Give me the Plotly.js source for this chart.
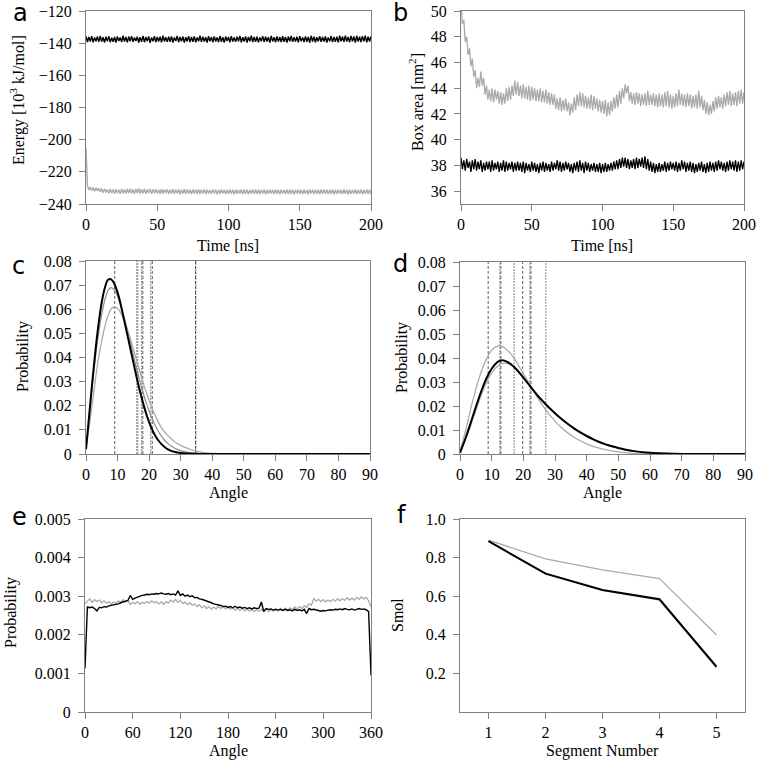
<!DOCTYPE html>
<html><head><meta charset="utf-8">
<script src="https://cdn.plot.ly/plotly-3.0.1.min.js"></script>
<style>html,body{margin:0;padding:0;background:#fff}#chart{width:762px;height:766px}</style>
</head><body><div id="chart"></div>
<script>
// ---------------- DATA ----------------
const timeNs = [];
for (let t = 0; t <= 200; t++) timeNs.push(t);

const energyBlack = [
-135.8,-139.3,-136.2,-139.0,-135.6,-139.5,-136.5,-138.8,-135.9,-139.2,-135.5,-139.0,-136.3,-139.6,-136.0,-138.9,-135.6,-139.4,-136.6,-139.1,
-136.1,-139.7,-135.8,-138.7,-136.4,-139.3,-135.4,-139.0,-136.2,-139.5,-135.9,-138.9,-135.6,-139.2,-136.5,-138.6,-136.0,-139.6,-136.3,-139.1,
-135.5,-139.4,-136.1,-138.9,-135.8,-139.8,-136.4,-138.8,-135.6,-139.3,-136.2,-139.0,-135.9,-139.5,-135.4,-138.9,-136.3,-139.2,-136.0,-139.1,
-135.8,-139.6,-136.5,-138.7,-135.5,-139.4,-136.1,-138.9,-135.9,-139.7,-136.3,-138.9,-135.6,-139.3,-136.2,-139.1,-135.8,-139.5,-136.4,-138.8,
-135.4,-139.2,-136.0,-139.0,-136.3,-139.6,-135.6,-138.9,-136.1,-139.4,-135.8,-139.0,-136.4,-139.3,-135.5,-139.1,-136.2,-139.7,-135.9,-138.7,
-136.1,-139.4,-135.6,-139.0,-136.4,-139.2,-136.0,-138.8,-135.5,-139.5,-136.3,-139.0,-135.8,-139.6,-136.2,-138.9,-135.4,-139.3,-136.1,-139.1,
-135.9,-139.5,-136.4,-138.8,-135.6,-139.2,-136.0,-139.0,-136.2,-139.7,-135.5,-138.9,-136.3,-139.4,-135.8,-139.0,-136.1,-139.3,-135.6,-139.1,
-136.2,-139.6,-135.9,-138.9,-135.5,-139.2,-136.3,-139.0,-136.0,-139.5,-135.6,-138.8,-136.4,-139.3,-135.8,-139.1,-136.1,-139.7,-135.4,-139.0,
-136.0,-139.4,-136.3,-138.9,-135.6,-139.2,-136.1,-139.0,-135.8,-139.6,-136.4,-138.8,-135.5,-139.3,-136.2,-139.1,-135.9,-139.5,-135.4,-138.9,
-135.9,-139.2,-135.3,-139.0,-136.1,-139.4,-135.5,-138.8,-135.8,-139.6,-135.4,-139.0,-136.0,-139.3,-135.6,-138.9,-135.3,-139.5,-135.9,-139.0,
-135.8];

const energyGray = [
-205.0,-228.6,-231.2,-229.4,-231.6,-229.8,-232.0,-230.0,-231.8,-230.2,-232.3,-230.4,-233.0,-230.6,-232.8,-230.9,-233.4,-230.7,-233.1,-231.0,
-233.6,-230.8,-233.2,-231.1,-233.7,-230.6,-233.3,-231.0,-233.5,-230.7,-233.1,-230.5,-233.4,-230.9,-233.6,-230.6,-233.2,-230.4,-233.5,-230.8,
-233.3,-230.7,-233.6,-231.0,-233.2,-230.6,-233.7,-230.9,-233.4,-230.8,-233.3,-231.1,-233.8,-230.7,-233.5,-231.0,-233.2,-230.9,-233.6,-231.2,
-233.4,-230.8,-233.7,-231.1,-233.3,-230.9,-233.9,-231.2,-233.5,-230.8,-233.6,-231.0,-233.4,-231.2,-233.8,-230.9,-233.5,-231.1,-233.7,-231.0,
-233.6,-231.2,-233.4,-230.9,-233.8,-231.1,-233.5,-231.3,-233.7,-230.9,-233.4,-231.1,-233.9,-231.2,-233.6,-231.0,-233.5,-231.3,-233.8,-231.1,
-233.7,-231.0,-233.5,-231.2,-233.9,-231.1,-233.6,-231.3,-233.4,-231.0,-233.8,-231.2,-233.6,-231.1,-233.9,-231.3,-233.5,-231.0,-233.7,-231.2,
-233.6,-231.1,-233.8,-231.3,-233.5,-231.0,-233.9,-231.2,-233.7,-231.1,-233.4,-231.3,-233.8,-231.0,-233.6,-231.2,-233.9,-231.1,-233.5,-231.3,
-233.7,-231.0,-233.8,-231.2,-233.6,-231.1,-233.9,-231.3,-233.5,-231.0,-233.7,-231.2,-233.8,-231.1,-233.6,-231.3,-233.9,-231.0,-233.5,-231.2,
-233.8,-231.1,-233.6,-231.3,-233.9,-231.0,-233.7,-231.2,-233.5,-231.1,-233.8,-231.3,-233.6,-231.0,-233.9,-231.2,-233.7,-231.1,-233.5,-231.3,
-233.8,-231.0,-233.6,-231.2,-233.9,-231.1,-233.7,-231.3,-233.5,-231.0,-233.8,-231.2,-233.6,-231.1,-233.9,-231.3,-233.7,-231.0,-233.6,-231.2,
-233.8];

const areaBlack = [
38.6,37.7,38.4,37.6,38.5,37.8,38.3,37.5,38.4,37.7,38.5,37.6,38.3,37.7,38.4,37.5,38.2,37.6,38.3,37.7,
38.3,37.5,38.4,37.6,38.2,37.7,38.3,37.5,38.2,37.6,38.4,37.5,38.3,37.6,38.2,37.7,38.3,37.5,38.2,37.6,
38.3,37.6,38.2,37.5,38.3,37.4,38.2,37.6,38.1,37.5,38.3,37.6,38.2,37.5,38.1,37.4,38.2,37.6,38.3,37.5,
38.2,37.6,38.1,37.5,38.3,37.6,38.2,37.7,38.4,37.6,38.3,37.5,38.2,37.6,38.3,37.7,38.2,37.5,38.1,37.4,
38.2,37.6,38.3,37.5,38.4,37.6,38.2,37.4,38.3,37.6,38.2,37.5,38.1,37.6,38.2,37.5,38.1,37.5,38.2,37.4,
38.1,37.5,38.2,37.5,38.1,37.6,38.2,37.6,38.3,37.7,38.4,37.7,38.5,37.8,38.6,37.9,38.6,37.8,38.5,37.7,
38.4,37.8,38.5,37.7,38.6,37.8,38.5,37.9,38.6,37.8,38.7,37.7,38.5,37.6,38.3,37.5,38.2,37.4,38.1,37.5,
38.2,37.5,38.1,37.6,38.3,37.5,38.2,37.6,38.3,37.7,38.2,37.6,38.3,37.5,38.2,37.6,38.4,37.7,38.3,37.5,
38.2,37.6,38.3,37.5,38.2,37.4,38.1,37.5,38.2,37.6,38.3,37.5,38.1,37.4,38.2,37.5,38.3,37.6,38.2,37.5,
38.3,37.6,38.4,37.7,38.3,37.6,38.2,37.5,38.3,37.6,38.4,37.7,38.3,37.6,38.4,37.5,38.3,37.6,38.4,37.7,
38.3];

const areaGray = [
50.8,49.0,49.3,47.6,48.0,46.6,47.1,45.7,46.3,44.9,45.4,44.0,44.8,44.1,45.3,44.2,44.8,43.5,44.2,43.1,
43.9,43.0,44.0,42.9,43.9,43.1,43.8,42.8,43.7,42.7,43.6,42.8,44.0,43.0,44.1,43.1,44.2,43.4,44.6,43.5,
44.5,43.4,44.2,43.2,44.3,43.2,44.1,43.1,44.2,43.0,44.1,43.1,44.0,43.0,43.9,43.0,44.0,42.9,43.8,42.9,
43.9,42.8,43.7,42.7,43.6,42.7,43.5,42.4,43.2,42.3,43.3,42.2,43.1,42.3,43.2,42.2,42.9,41.9,42.8,42.1,
43.3,42.3,43.5,42.6,43.7,42.6,43.6,42.5,43.4,42.4,43.3,42.4,43.5,42.3,43.4,42.4,43.2,42.2,43.1,42.1,
43.0,42.0,43.1,41.8,42.9,41.9,43.0,42.2,43.3,42.4,43.5,42.5,43.8,42.8,44.0,43.2,44.3,43.6,44.2,43.0,
43.7,42.8,43.6,42.7,43.7,42.8,43.6,42.6,43.5,42.7,43.6,42.6,43.8,42.7,43.5,42.7,43.6,42.6,43.5,42.5,
43.6,42.6,43.5,42.5,43.7,42.6,43.8,42.5,43.5,42.4,43.4,42.5,43.6,42.6,43.9,42.7,43.6,42.6,43.5,42.5,
43.6,42.6,43.5,42.4,43.4,42.5,43.5,42.4,43.8,42.5,43.4,42.3,43.1,42.0,42.9,41.9,42.7,42.0,43.0,42.2,
43.3,42.4,43.4,42.5,43.3,42.4,43.5,42.6,43.7,42.7,43.8,42.6,43.6,42.7,43.7,42.6,43.8,42.8,43.9,42.8,
43.7];

// Panel c: tilt angle distributions
const cAngle = [0,1,2,3,4,5,6,7,8,9,10,11,12,13,14,15,16,17,18,19,20,21,22,23,24,25,26,27,28,29,30,32,34,36,38,40,45,50,60,70,80,90];
const cBlack = [0.002,0.016,0.030,0.043,0.054,0.063,0.069,0.0722,0.0724,0.0705,0.067,0.062,0.056,0.050,0.044,0.038,0.032,0.0265,0.0215,0.017,0.0132,0.010,0.0075,0.0055,0.004,0.0028,0.0019,0.0013,0.0009,0.0006,0.0004,0.0002,0.0001,0.00005,0,0,0,0,0,0,0,0];
const cGray1 = [0.002,0.015,0.028,0.040,0.050,0.058,0.064,0.0678,0.069,0.068,0.0655,0.0615,0.057,0.052,0.0465,0.041,0.0355,0.0305,0.0258,0.0215,0.0178,0.0145,0.0116,0.0092,0.0072,0.0056,0.0043,0.0033,0.0025,0.0019,0.0014,0.0008,0.0004,0.0002,0.0001,0.00005,0,0,0,0,0,0];
const cGray2 = [0.002,0.011,0.021,0.031,0.040,0.047,0.053,0.0575,0.0602,0.061,0.0603,0.0585,0.0555,0.052,0.048,0.0435,0.039,0.0345,0.030,0.026,0.0222,0.0188,0.0158,0.013,0.0107,0.0090,0.0076,0.0063,0.0052,0.0043,0.0036,0.0024,0.0015,0.0009,0.0005,0.0003,0.00005,0,0,0,0,0];
const cMarksBlack = [9.1, 18.0, 21.0, 34.7];
const cMarksGray = [16.1, 16.4, 17.6, 20.5, 34.8];

// Panel d
const dAngle = [0,2,4,6,8,10,12,13,14,16,18,20,22,24,26,28,30,32,34,36,38,40,42,44,46,48,50,52,55,60,65,70,80,90];
const dBlack = [0.0005,0.0075,0.0155,0.0235,0.0305,0.0355,0.0385,0.039,0.0389,0.0375,0.035,0.0318,0.0285,0.0252,0.0222,0.0195,0.017,0.0147,0.0126,0.0107,0.009,0.0075,0.0062,0.005,0.004,0.0032,0.0025,0.0019,0.0012,0.0005,0.0002,0.00005,0,0];
const dGray1 = [0.001,0.011,0.022,0.0315,0.0385,0.0433,0.045,0.0449,0.0443,0.0418,0.038,0.0335,0.029,0.0245,0.0204,0.0168,0.0137,0.011,0.0088,0.007,0.0055,0.0042,0.0032,0.0024,0.0018,0.0013,0.0009,0.0006,0.0003,0.0001,0,0,0,0];
const dGray2 = [0.0005,0.007,0.0145,0.022,0.0288,0.0338,0.0368,0.0376,0.0379,0.0372,0.035,0.032,0.0287,0.0254,0.0223,0.0195,0.0169,0.0145,0.0124,0.0105,0.0088,0.0073,0.006,0.0049,0.0039,0.0031,0.0024,0.0018,0.0011,0.0005,0.0002,0.00005,0,0];
const dMarksBlack = [8.9, 12.9, 19.8, 22.4];
const dMarksGray = [12.6, 17.1, 22.1, 27.1];

// Panel e: dihedral distribution
const eAngle = [0,3,6,9,12,15,18,21,24,27,30,33,36,39,42,45,48,51,54,57,60,63,66,69,72,75,78,81,84,87,90,93,96,99,102,105,108,111,114,117,120,123,126,129,132,135,138,141,144,147,150,153,156,159,162,165,168,171,174,177,180,183,186,189,192,195,198,201,204,207,210,213,216,219,222,225,228,231,234,237,240,243,246,249,252,255,258,261,264,267,270,273,276,279,282,285,288,291,294,297,300,303,306,309,312,315,318,321,324,327,330,333,336,339,342,345,348,351,354,357,360];
const eBlack = [0.00113,0.00272,0.00270,0.00272,0.00268,0.00262,0.00271,0.00270,0.00273,0.00272,0.00275,0.00276,0.00278,0.00279,0.00280,0.00283,0.00285,0.00287,0.00289,0.00302,
0.00292,0.00295,0.00298,0.00300,0.00302,0.00303,0.00305,0.00304,0.00306,0.00305,0.00307,0.00306,0.00308,0.00306,0.00305,0.00307,0.00304,0.00306,0.00303,0.00314,
0.00302,0.00306,0.00300,0.00303,0.00299,0.00301,0.00296,0.00297,0.00293,0.00292,0.00290,0.00288,0.00285,0.00283,0.00280,0.00279,0.00276,0.00276,0.00273,0.00274,
0.00271,0.00273,0.00270,0.00274,0.00270,0.00272,0.00269,0.00271,0.00268,0.00270,0.00267,0.00270,0.00268,0.00269,0.00285,0.00260,0.00268,0.00266,0.00267,0.00264,
0.00266,0.00264,0.00266,0.00263,0.00266,0.00263,0.00265,0.00262,0.00266,0.00263,0.00265,0.00262,0.00266,0.00255,0.00268,0.00265,0.00266,0.00264,0.00263,0.00261,
0.00263,0.00262,0.00264,0.00265,0.00264,0.00266,0.00265,0.00267,0.00265,0.00268,0.00266,0.00265,0.00267,0.00264,0.00266,0.00268,0.00266,0.00267,0.00265,0.00260,
0.00095];
const eGray = [0.00280,0.00287,0.00293,0.00284,0.00291,0.00286,0.00290,0.00283,0.00288,0.00282,0.00286,0.00279,0.00285,0.00281,0.00288,0.00283,0.00291,0.00285,0.00289,0.00278,
0.00284,0.00280,0.00286,0.00279,0.00284,0.00281,0.00286,0.00282,0.00288,0.00283,0.00286,0.00280,0.00285,0.00279,0.00286,0.00282,0.00290,0.00285,0.00292,0.00284,
0.00289,0.00281,0.00285,0.00278,0.00283,0.00276,0.00280,0.00273,0.00278,0.00270,0.00275,0.00268,0.00273,0.00266,0.00272,0.00267,0.00274,0.00268,0.00273,0.00267,
0.00272,0.00266,0.00270,0.00264,0.00269,0.00263,0.00268,0.00262,0.00267,0.00261,0.00266,0.00260,0.00265,0.00261,0.00266,0.00262,0.00267,0.00260,0.00265,0.00261,
0.00266,0.00262,0.00268,0.00263,0.00269,0.00264,0.00270,0.00265,0.00272,0.00267,0.00273,0.00268,0.00275,0.00271,0.00280,0.00277,0.00294,0.00287,0.00292,0.00286,
0.00291,0.00285,0.00290,0.00286,0.00292,0.00287,0.00293,0.00288,0.00294,0.00289,0.00296,0.00290,0.00295,0.00290,0.00297,0.00292,0.00298,0.00293,0.00297,0.00288,
0.00272];

// Panel f: order parameter per segment
const segments = [1,2,3,4,5];
const smolBlack = [0.885,0.717,0.632,0.584,0.235];
const smolGrayHigh = [0.890,0.793,0.736,0.691,0.399];
const smolGrayLow = [0.885,0.720,0.630,0.580,0.228];
const fTicks = [0.2,0.4,0.6,0.8,1.0];
const fTickText = ["0.2","0.4","0.6","0.8","1.0"];

// ---------------- LAYOUT HELPERS ----------------
const W = 762, H = 766;
const GRAYL = '#aaaaaa', GRAYM = '#8c8c8c', AX = '#808080';
const SERIF = 'Liberation Serif, Times New Roman, serif';
const SANS = 'DejaVu Sans, sans-serif';
function dx(l, r) { return [l / W, r / W]; }
function dy(t, b) { return [1 - b / H, 1 - t / H]; }
function baseAxis(extra) {
  return Object.assign({
    showline: true, linecolor: AX, linewidth: 1, mirror: true,
    ticks: 'outside', ticklen: 6, tickcolor: AX, tickwidth: 1,
    showgrid: false, zeroline: false, fixedrange: true,
    tickfont: { family: SERIF, size: 16, color: '#000' },
    ticklabelstandoff: 4
  }, extra);
}
function xAxis(extra) { return baseAxis(Object.assign({ ticklabelstandoff: 0 }, extra)); }
function vlines(xs, y0, y1) {
  const X = [], Y = [];
  xs.forEach(v => { X.push(v, v, null); Y.push(y0, y1, null); });
  return { X, Y };
}

const traces = [];
// a
traces.push({ x: timeNs, y: energyGray, xaxis: 'x', yaxis: 'y', mode: 'lines', line: { color: GRAYL, width: 1.4 } });
traces.push({ x: timeNs, y: energyBlack, xaxis: 'x', yaxis: 'y', mode: 'lines', line: { color: '#000', width: 1.4 } });
// b
traces.push({ x: timeNs, y: areaGray, xaxis: 'x2', yaxis: 'y2', mode: 'lines', line: { color: GRAYL, width: 1.3 } });
traces.push({ x: timeNs, y: areaBlack, xaxis: 'x2', yaxis: 'y2', mode: 'lines', line: { color: '#000', width: 1.3 } });
// c
let v = vlines(cMarksGray, 0, 0.08);
traces.push({ x: v.X, y: v.Y, xaxis: 'x3', yaxis: 'y3', mode: 'lines', line: { color: '#999', width: 1.2, dash: '2px,1px' } });
v = vlines(cMarksBlack, 0, 0.08);
traces.push({ x: v.X, y: v.Y, xaxis: 'x3', yaxis: 'y3', mode: 'lines', line: { color: '#333', width: 0.8, dash: '3px,2px' } });
traces.push({ x: cAngle, y: cGray2, xaxis: 'x3', yaxis: 'y3', mode: 'lines', line: { color: GRAYL, width: 1.3, shape: 'spline' } });
traces.push({ x: cAngle, y: cGray1, xaxis: 'x3', yaxis: 'y3', mode: 'lines', line: { color: GRAYM, width: 1.2, shape: 'spline' } });
traces.push({ x: cAngle, y: cBlack, xaxis: 'x3', yaxis: 'y3', mode: 'lines', line: { color: '#000', width: 2, shape: 'spline' } });
// d
v = vlines(dMarksGray, 0, 0.08);
traces.push({ x: v.X, y: v.Y, xaxis: 'x4', yaxis: 'y4', mode: 'lines', line: { color: '#999', width: 1.2, dash: '2px,1px' } });
v = vlines(dMarksBlack, 0, 0.08);
traces.push({ x: v.X, y: v.Y, xaxis: 'x4', yaxis: 'y4', mode: 'lines', line: { color: '#333', width: 0.8, dash: '3px,2px' } });
traces.push({ x: dAngle, y: dGray2, xaxis: 'x4', yaxis: 'y4', mode: 'lines', line: { color: GRAYL, width: 1.3, shape: 'spline' } });
traces.push({ x: dAngle, y: dGray1, xaxis: 'x4', yaxis: 'y4', mode: 'lines', line: { color: GRAYL, width: 1.3, shape: 'spline' } });
traces.push({ x: dAngle, y: dBlack, xaxis: 'x4', yaxis: 'y4', mode: 'lines', line: { color: '#000', width: 2, shape: 'spline' } });
// e
traces.push({ x: eAngle, y: eGray, xaxis: 'x5', yaxis: 'y5', mode: 'lines', line: { color: GRAYL, width: 1.3 } });
traces.push({ x: eAngle, y: eBlack, xaxis: 'x5', yaxis: 'y5', mode: 'lines', line: { color: '#000', width: 1.4 } });
// f
traces.push({ x: segments, y: smolGrayHigh, xaxis: 'x6', yaxis: 'y6', mode: 'lines', line: { color: GRAYL, width: 1.3 } });
traces.push({ x: segments, y: smolGrayLow, xaxis: 'x6', yaxis: 'y6', mode: 'lines', line: { color: GRAYL, width: 1.3 } });
traces.push({ x: segments, y: smolBlack, xaxis: 'x6', yaxis: 'y6', mode: 'lines', line: { color: '#000', width: 2 } });

function ann(text, px, py, opts) {
  return Object.assign({ text, x: px / W, y: 1 - py / H, xref: 'paper', yref: 'paper', showarrow: false,
    xanchor: 'center', yanchor: 'middle', font: { family: SERIF, size: 16, color: '#000' } }, opts || {});
}
const letterFont = { family: SANS, size: 24, color: '#000' };
const annotations = [
  ann('a', 20, 13, { font: letterFont }), ann('b', 400, 13, { font: letterFont }),
  ann('c', 18, 266, { font: letterFont }), ann('d', 400, 264, { font: letterFont }),
  ann('e', 19, 517, { font: letterFont }), ann('f', 402, 515, { font: letterFont }),
  ann('Energy [10<sup>3</sup> kJ/mol]', 18, 100, { textangle: -90 }),
  ann('Box area [nm<sup>2</sup>]', 416, 102, { textangle: -90 }),
  ann('Probability', 23, 357, { textangle: -90 }),
  ann('Probability', 402, 357, { textangle: -90 }),
  ann('Probability', 11, 613, { textangle: -90 }),
  ann('Smol', 397, 615, { textangle: -90 }),
  ann('Time [ns]', 228, 245), ann('Time [ns]', 602, 245),
  ann('Angle', 228, 493), ann('Angle', 602, 493),
  ann('Angle', 228, 751), ann('Segment Number', 602, 751)
];

const layout = {
  width: W, height: H, margin: { l: 0, r: 0, t: 0, b: 0 },
  paper_bgcolor: '#fff', plot_bgcolor: '#fff', showlegend: false,
  font: { family: SERIF, size: 16, color: '#000' },
  xaxis: xAxis({ domain: dx(86, 371), range: [0, 200], tickvals: [0, 50, 100, 150, 200], anchor: 'y' }),
  yaxis: baseAxis({ domain: dy(11, 204), range: [-240, -120], tickvals: [-240, -220, -200, -180, -160, -140, -120], anchor: 'x' }),
  xaxis2: xAxis({ domain: dx(461, 744), range: [0, 200], tickvals: [0, 50, 100, 150, 200], anchor: 'y2' }),
  yaxis2: baseAxis({ domain: dy(11, 204), range: [35, 50], tickvals: [36, 38, 40, 42, 44, 46, 48, 50], anchor: 'x2' }),
  xaxis3: xAxis({ domain: dx(86, 370), range: [0, 90], dtick: 10, tick0: 0, anchor: 'y3' }),
  yaxis3: baseAxis({ domain: dy(261, 454), range: [0, 0.08], dtick: 0.01, tick0: 0, anchor: 'x3' }),
  xaxis4: xAxis({ domain: dx(460, 745), range: [0, 90], dtick: 10, tick0: 0, anchor: 'y4' }),
  yaxis4: baseAxis({ domain: dy(262, 454), range: [0, 0.08], dtick: 0.01, tick0: 0, anchor: 'x4' }),
  xaxis5: xAxis({ domain: dx(85, 371), range: [0, 360], dtick: 60, tick0: 0, anchor: 'y5' }),
  yaxis5: baseAxis({ domain: dy(519, 712), range: [0, 0.005], dtick: 0.001, tick0: 0, anchor: 'x5' }),
  xaxis6: xAxis({ domain: dx(460, 745), range: [0.5, 5.5], tickvals: segments, anchor: 'y6' }),
  yaxis6: baseAxis({ domain: dy(519, 712), range: [0, 1.0], tickvals: fTicks, ticktext: fTickText, anchor: 'x6' }),
  annotations
};

Plotly.newPlot('chart', traces, layout, { staticPlot: true, displayModeBar: false });
</script></body></html>
